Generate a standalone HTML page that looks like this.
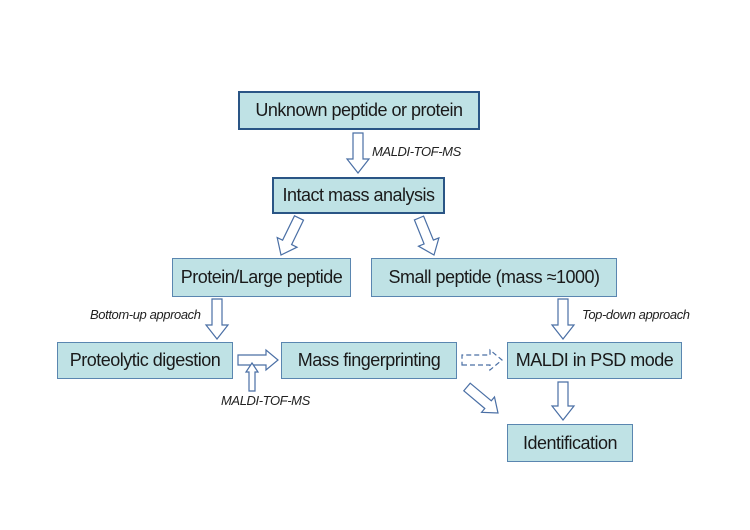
<!DOCTYPE html>
<html><head><meta charset="utf-8"><style>
body{margin:0;background:#fff;width:750px;height:530px;overflow:hidden;position:relative;font-family:"Liberation Sans",sans-serif}
.b{position:absolute;background:#bfe2e5;border:1.5px solid #5a86b0;box-sizing:border-box;display:flex;align-items:center;justify-content:center;font-size:18px;color:#1a1a1a;letter-spacing:-0.5px;white-space:nowrap}
.d{border:2px solid #2a5585}
.l{position:absolute;font-style:italic;font-size:13px;color:#222;letter-spacing:-0.4px;white-space:nowrap}
svg{position:absolute;left:0;top:0}
</style></head><body>
<div class="b d" style="left:238px;top:91px;width:242px;height:39px">Unknown peptide or protein</div>
<div class="b d" style="left:272px;top:177px;width:173px;height:37px">Intact mass analysis</div>
<div class="b" style="left:172px;top:258px;width:179px;height:39px">Protein/Large peptide</div>
<div class="b" style="left:371px;top:258px;width:246px;height:39px">Small peptide (mass ≈1000)</div>
<div class="b" style="left:57px;top:342px;width:176px;height:37px">Proteolytic digestion</div>
<div class="b" style="left:281px;top:342px;width:176px;height:37px">Mass fingerprinting</div>
<div class="b" style="left:507px;top:342px;width:175px;height:37px">MALDI in PSD mode</div>
<div class="b" style="left:507px;top:424px;width:126px;height:38px">Identification</div>
<div class="l" style="left:372px;top:144px">MALDI-TOF-MS</div>
<div class="l" style="left:90px;top:307px">Bottom-up approach</div>
<div class="l" style="left:582px;top:307px">Top-down approach</div>
<div class="l" style="left:221px;top:393px">MALDI-TOF-MS</div>
<svg id="s" width="750" height="530"></svg>
<script>
function arr(x1,y1,x2,y2,sw,hw,hl,dash){
 var dx=x2-x1,dy=y2-y1,L=Math.hypot(dx,dy),ux=dx/L,uy=dy/L,px=-uy,py=ux;
 var pts=[[0,sw],[L-hl,sw],[L-hl,hw],[L,0],[L-hl,-hw],[L-hl,-sw],[0,-sw]];
 var p=pts.map(function(q){return (x1+ux*q[0]+px*q[1]).toFixed(1)+","+(y1+uy*q[0]+py*q[1]).toFixed(1)}).join(" ");
 return '<polygon points="'+p+'" fill="#fff" stroke="#4a6fa5" stroke-width="1.2"'+(dash?' stroke-dasharray="5,3"':'')+'/>';
}
var h="";
h+=arr(358,133,358,173,5,11,14);
h+=arr(299,218,281,255,5,11,14);
h+=arr(419,218,434,255,5,11,14);
h+=arr(217,299,217,339,5,11,14);
h+=arr(563,299,563,339,5,11,14);
h+=arr(238,360,278,360,5,10,12);
h+=arr(252,391,252,363,3,6,9);
h+=arr(462,360,502,360,5,10,12,true);
h+=arr(467,387,498,413,5,10,13);
h+=arr(563,382,563,420,5,11,14);
document.getElementById("s").innerHTML=h;
</script>
</body></html>
